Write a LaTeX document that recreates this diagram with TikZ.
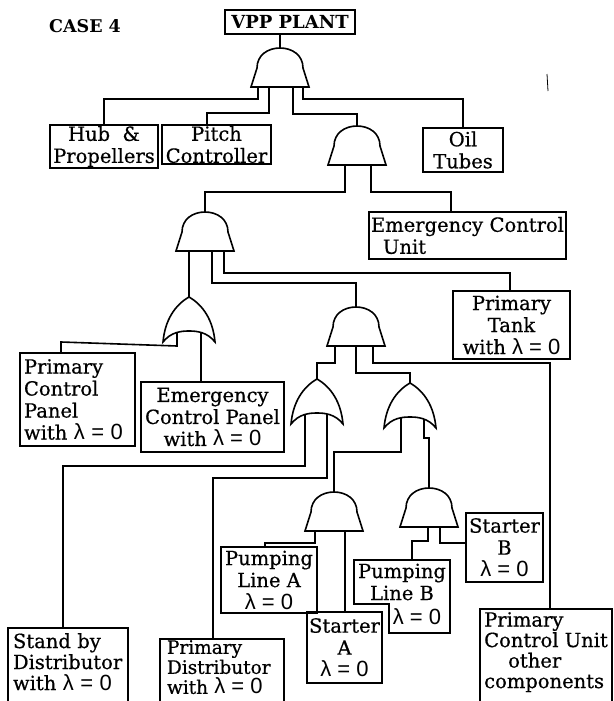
\documentclass[tikz,border=0pt]{standalone}
\usepackage{fontspec}
\setmainfont{DejaVu Serif}
\newfontfamily\dk{DejaVu Serif}[FakeBold=0.6]
\newfontfamily\lsans{Liberation Sans}
\newcommand\lz{{\lsans\fontsize{22}{22}\selectfont λ = 0}}
% AND gate: name, cx, top y (height 39, half width 29)
\newcommand\andgate[3]{%
  \coordinate (#1) at (#2,#3);
  \draw[gateshape] ({#2-29},{#3+39}) -- ({#2-23},{#3+20})
    .. controls ({#2-23},{#3+7}) and ({#2-12},{#3}) .. (#2,#3)
    .. controls ({#2+12},{#3}) and ({#2+23},{#3+7}) .. ({#2+23},{#3+20})
    -- ({#2+29},{#3+39}) -- cycle;}
% OR gate: name, cx, top y (height 45, half width 26)
\newcommand\orgate[3]{%
  \coordinate (#1) at (#2,#3);
  \draw[gateshape] (#2,#3)
    .. controls ({#2+14},{#3+8}) and ({#2+24},{#3+23}) .. ({#2+26},{#3+45})
    .. controls ({#2+18},{#3+35}) and ({#2+8},{#3+34}) .. (#2,{#3+34})
    .. controls ({#2-8},{#3+34}) and ({#2-18},{#3+35}) .. ({#2-26},{#3+45})
    .. controls ({#2-24},{#3+23}) and ({#2-14},{#3+8}) .. (#2,#3) -- cycle;}
\begin{document}
\begin{tikzpicture}[x=1pt,y=-1pt,
  bx/.style={draw, line width=2pt, inner sep=0pt, font=\dk\fontsize{19.5}{22}\selectfont, align=center},
  txt/.style={inner sep=0pt, font=\dk\fontsize{19.5}{22}\selectfont, align=center},
  boxline/.style={line width=2pt},
  wire/.style={line width=1.6pt},
  gateshape/.style={line width=1.6pt, fill=white}]
\useasboundingbox (0,0) rectangle (613,701);
\clip (0,0) rectangle (613,701);

% ---------- boxes ----------
\node[font=\bfseries\fontsize{17.5}{19}\selectfont] (case) at (85,26) {CASE 4};
\node[bx, minimum width=130, minimum height=24, font=\bfseries\fontsize{18}{20}\selectfont] (vpp) at (290,22) {VPP PLANT};
\node[bx, minimum width=108, minimum height=43] (hub) at (104,146.5) {Hub\ \ \&\\Propellers};
\node[bx, minimum width=109, minimum height=39] (pitch) at (216.5,144.5) {Pitch\\Controller};
\node[bx, minimum width=80, minimum height=44] (oil) at (463,150) {Oil\\Tubes};
\node[bx, minimum width=197, minimum height=47, inner xsep=2pt, text width=193pt, align=left] (ecu) at (467.5,235.5) {Emergency Control\\\hspace*{12pt}Unit};
\node[bx, minimum width=117, minimum height=68] (tank) at (511.5,325) {Primary\\Tank\\with \lz};
\node[bx, minimum width=115, minimum height=93, inner xsep=4pt, text width=107pt, align=left] (pcp) at (77.5,399.5) {Primary\\Control\\Panel\\with \lz};
\node[bx, minimum width=143, minimum height=70] (ecp) at (212.5,417) {Emergency\\Control Panel\\with \lz};
\node[bx, minimum width=77, minimum height=69] (starterB) at (504.5,547.5) {Starter\\B\\\lz};
\node[bx, minimum width=96, minimum height=66] (plA) at (269,580) {Pumping\\Line A\\\lz};
\node[bx, minimum width=75, minimum height=71] (stA) at (344.5,647.5) {Starter\\A\\\lz};
\node[txt, minimum width=96, minimum height=44] (plB) at (402,582) {Pumping\\Line B};
\node[txt] (plBl) at (417,617) {\lz};
\draw[boxline] (354,560) -- (450,560) -- (450,633) -- (389,633) -- (389,604) -- (354,604) -- cycle;
% bottom boxes, cut by the lower edge
\node[txt, anchor=north, minimum width=120, inner xsep=5pt, inner ysep=5pt, text width=110pt, align=left, font=\dk\fontsize{19.5}{21}\selectfont] (sbd) at (68,628) {Stand by\\Distributor\\with \lz};
\draw[boxline] (sbd.north west) rectangle (sbd.east |- 0,712);
\node[txt, anchor=north, minimum width=124, inner xsep=7pt, inner ysep=1pt, text width=110pt, align=left, font=\dk\fontsize{18.5}{20}\selectfont] (pd) at (222,639) {Primary\\Distributor\\with \lz};
\draw[boxline] (pd.north west) rectangle (pd.east |- 0,712);
\node[txt, anchor=north, minimum width=132, inner xsep=3pt, inner ysep=3pt, align=left, font=\dk\fontsize{19.5}{20.5}\selectfont] (pcu) at (546,609) {Primary\\Control Unit\\\hspace*{24pt}other\\components};
\draw[boxline] (pcu.north west) rectangle (pcu.east |- 0,712);

% ---------- gate apex coordinates ----------
\coordinate (g1) at (280,48);
\coordinate (g2) at (357,126);
\coordinate (g3) at (205,212);
\coordinate (or1) at (189,297);
\coordinate (g4) at (356,307);
\coordinate (or2) at (317,379);
\coordinate (or3) at (410,383);
\coordinate (g5) at (334,492);
\coordinate (g6) at (429,488);

% ---------- connectors ----------
\draw[wire] (g1 |- vpp.south) -- (g1);
\draw[wire] (258,87) -- (258,99) -| (hub.north);
\draw[wire] (269,87) -- (269,113) -| (207,0 |- pitch.north);
\draw[wire] (293,87) -- (293,114) -| (g2);
\draw[wire] (303,87) -- (303,99) -| (oil.north);
\draw[wire] (345,165) -- (345,192) -| (g3);
\draw[wire] (371,165) -- (371,192) -| (451,0 |- ecu.north);
\draw[wire] (189,251) -- (or1);
\draw[wire] (212,251) -- (212,283) -| (g4);
\draw[wire] (224,251) -- (224,273) -| (510,0 |- tank.north);
\draw[wire] (177,331) -- (177,346) -- (61,342) -- (61,0 |- pcp.north);
\draw[wire] (201,331) -- (201,0 |- ecp.north);
\draw[wire] (335,346) -- (335,363) -| (or2);
\draw[wire] (356,346) -- (356,373) -| (or3);
\draw[wire] (373,346) -- (373,363) -| (550,0 |- pcu.north);
\draw[wire] (305,411) -- (305,466) -| (63,0 |- sbd.north);
\draw[wire] (327,411) -- (327,478) -| (213,0 |- pd.north);
\draw[wire] (401,416) -- (401,452) -| (g5);
\draw[wire] (424,416) -- (424,438) -- (429,438) -- (g6);
\draw[wire] (315,530) -- (315,543) -| (265,0 |- plA.north);
\draw[wire] (345,530) -- (345,0 |- stA.north);
\draw[wire] (428,527) -- (428,541) -| (412,0 |- plB.north);
\draw[wire] (440,527) -- (440,543) -- (starterB.west |- 0,543);
% stray mark
\draw[line width=0.8pt] (547,74) -- (548,91);

% ---------- gates ----------
\andgate{g1s}{280}{48}
\andgate{g2s}{357}{126}
\andgate{g3s}{205}{212}
\orgate{or1s}{189}{297}
\andgate{g4s}{356}{307}
\orgate{or2s}{317}{379}
\orgate{or3s}{410}{383}
\andgate{g5s}{334}{492}
\andgate{g6s}{429}{488}
\end{tikzpicture}
\end{document}
